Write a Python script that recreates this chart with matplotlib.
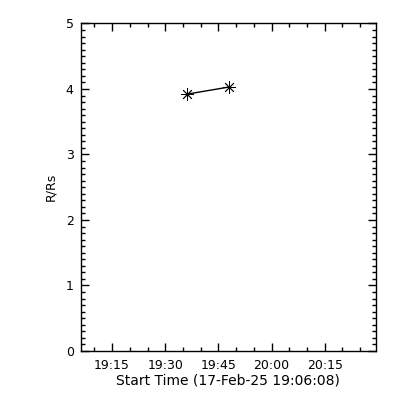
import datetime as dt
import matplotlib
matplotlib.use('Agg')
import matplotlib.pyplot as plt
import matplotlib.dates as mdates

# --- data ---
start_time = dt.datetime(2025, 2, 17, 19, 6, 8)
end_time = start_time + dt.timedelta(seconds=5000)
times = [dt.datetime(2025, 2, 17, 19, 36, 0), dt.datetime(2025, 2, 17, 19, 48, 0)]
heights = [3.92, 4.03]

plt.rcParams['font.family'] = 'DejaVu Sans'
plt.rcParams['font.size'] = 9

fig = plt.figure(figsize=(4, 4), dpi=100)
ax = fig.add_axes([0.2017, 0.1225, 0.7383, 0.8188])

ax.plot(times, heights, color='black', lw=1, marker=(8, 2, 0), ms=9, mew=0.6)

ax.set_xlim(start_time, end_time)
ax.set_ylim(0, 5)

ax.xaxis.set_major_locator(mdates.MinuteLocator(byminute=[0, 15, 30, 45]))
ax.xaxis.set_minor_locator(mdates.MinuteLocator(byminute=range(0, 60, 5)))
ax.xaxis.set_major_formatter(mdates.DateFormatter('%H:%M'))
ax.set_yticks(range(0, 6))
ax.yaxis.set_minor_locator(plt.MultipleLocator(0.1))

ax.tick_params(which='both', direction='in', top=True, right=True, width=1, color='black')
ax.tick_params(which='major', length=6)
ax.tick_params(which='minor', length=3)
ax.tick_params(axis='x', which='major', pad=6)
ax.tick_params(axis='y', which='major', pad=5)

for s in ax.spines.values():
    s.set_linewidth(1)

ax.set_xlabel('Start Time (17-Feb-25 19:06:08)', fontsize=10, labelpad=1)
ax.set_ylabel('R/Rs', labelpad=6)

fig.savefig('out.png', dpi=100)
